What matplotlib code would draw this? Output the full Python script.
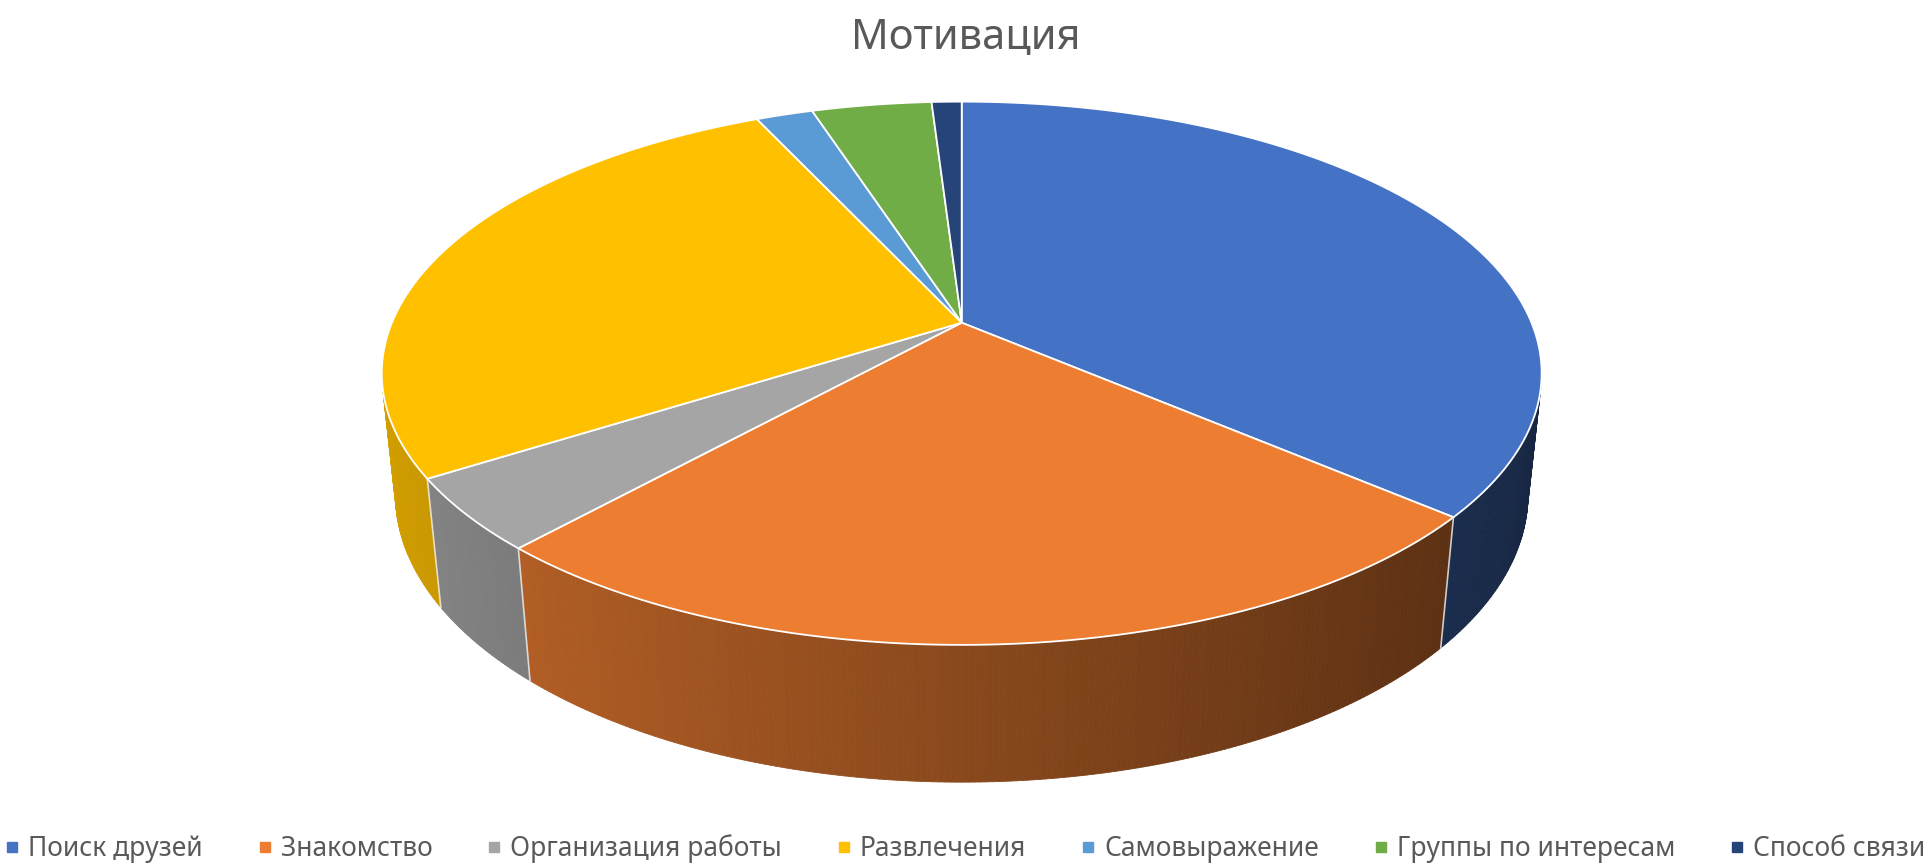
import numpy as np
import matplotlib
matplotlib.use("Agg")
import matplotlib.pyplot as plt
from matplotlib.colors import to_rgb
from matplotlib.collections import PolyCollection
from matplotlib.patches import Polygon
from matplotlib.lines import Line2D

# --- data ---
labels = ["Поиск друзей", "Знакомство", "Организация работы", "Развлечения",
          "Самовыражение", "Группы по интересам", "Способ связи"]
values = [36.3, 25.4, 4.3, 27.1, 1.9, 4.0, 1.0]
colors = ["#4472C4", "#ED7D31", "#A5A5A5", "#FFC000", "#5B9BD5", "#70AD47", "#264478"]

plt.rcParams["font.family"] = ["Noto Sans", "DejaVu Sans"]

fig = plt.figure(figsize=(19.31, 8.65), dpi=100)
ax = fig.add_axes([0, 0, 1, 1])
ax.set_xlim(0, 1931)
ax.set_ylim(865, 0)
ax.axis("off")

# perspective camera for the 3d pie (radius 1 disc, top at z=0)
elev = np.radians(27.4)
se, ce = np.sin(elev), np.cos(elev)
dist = 4.77
scale = 2718
cx, cy = 961.7, 322.7
thick = 0.242


def proj(theta, r=1.0, z=0.0):
    u = r * np.sin(theta)
    w = r * np.cos(theta)
    depth = w * ce + dist - z * se
    return cx + scale * u / depth, cy - scale * (w * se + z * ce) / depth


def shade(theta):
    # lighter on the left, darker on the right
    return 0.58 - 0.25 * np.sin(theta)


fracs = np.array(values) / sum(values)
edges = np.concatenate([[0], np.cumsum(fracs)]) * 2 * np.pi

vis_lo = np.arccos(-1 / (dist * ce))
vis_hi = 2 * np.pi - vis_lo

# side wall
polys, fcs = [], []
for i, col in enumerate(colors):
    a0 = max(edges[i], vis_lo)
    a1 = min(edges[i + 1], vis_hi)
    if a1 <= a0:
        continue
    n = max(2, int(np.degrees(a1 - a0) / 0.5))
    ts = np.linspace(a0, a1, n + 1)
    xt, yt = proj(ts)
    xb, yb = proj(ts, z=-thick)
    base = np.array(to_rgb(col))
    for j in range(n):
        polys.append([(xt[j], yt[j]), (xt[j + 1], yt[j + 1]),
                      (xb[j + 1], yb[j + 1]), (xb[j], yb[j])])
        fcs.append(np.clip(base * shade(0.5 * (ts[j] + ts[j + 1])), 0, 1))
ax.add_collection(PolyCollection(polys, facecolors=fcs, edgecolors=fcs, linewidths=0.6))

for e in edges[1:-1]:
    if vis_lo < e < vis_hi:
        x0, y0 = proj(e)
        x1, y1 = proj(e, z=-thick)
        ax.plot([x0, x1], [y0, y1], color="#f2f2f2", lw=1.2, alpha=0.8)

# top face
for i, col in enumerate(colors):
    n = max(4, int(np.degrees(edges[i + 1] - edges[i])))
    ts = np.linspace(edges[i], edges[i + 1], n + 1)
    xs, ys = proj(ts)
    pts = [(cx, cy)] + list(zip(xs, ys))
    ax.add_patch(Polygon(pts, closed=True, facecolor=col, edgecolor="white",
                         lw=1.3, joinstyle="round"))

# --- STYLE ---
fig.text(0.5, 1 - 48 / 865, "Мотивация", ha="center", va="baseline",
         fontsize=30, color="#595959")

handles = [Line2D([], [], marker="s", linestyle="none", markersize=7,
                  markerfacecolor=c, markeredgecolor=c) for c in colors]
fig.legend(handles, labels, loc="lower center", bbox_to_anchor=(0.5, 0.002),
           ncol=7, frameon=False, fontsize=19, handlelength=0.5,
           handletextpad=0.35, columnspacing=2.1, borderaxespad=0,
           borderpad=0, labelcolor="#595959")

fig.savefig("out.png", dpi=100)
